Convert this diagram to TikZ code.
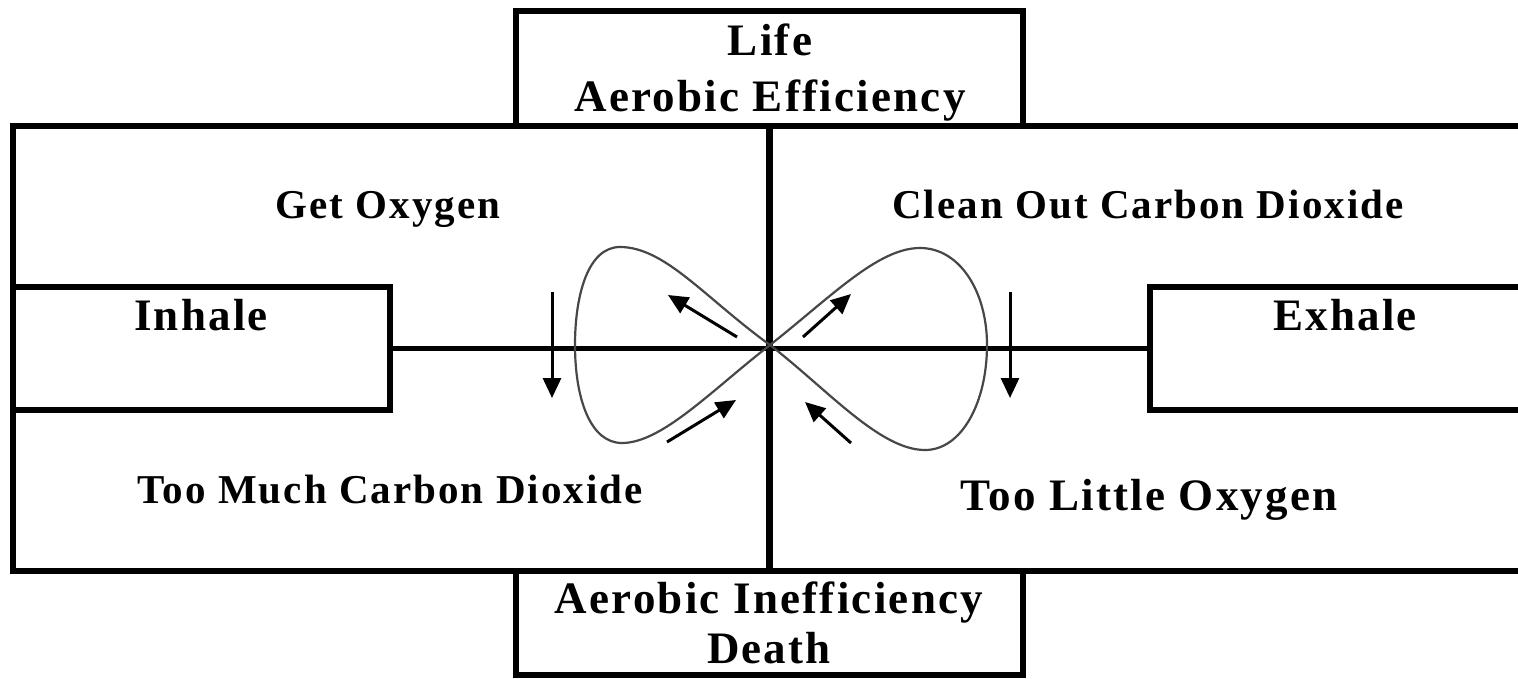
\documentclass[tikz,border=0pt]{standalone}
\usepackage{fontspec}
\setmainfont{Liberation Serif}[LetterSpace=5]
\usetikzlibrary{arrows.meta}
\begin{document}
\begin{tikzpicture}[x=1pt,y=-1pt,
  frame/.style={draw=black, line width=6pt, rectangle, inner sep=0pt, outer sep=0pt},
  axis/.style={draw=black, line width=5.5pt},
  loopline/.style={draw=black!72, line width=2.2pt},
  flow/.style={draw=black, line width=3pt, -{Triangle[length=20pt,width=18pt]}},
  big/.style={font=\fontsize{45}{50}\selectfont\bfseries, inner sep=0pt, anchor=base},
  mid/.style={font=\fontsize{41}{46}\selectfont\bfseries, inner sep=0pt, anchor=base}]
\useasboundingbox (0,0) rectangle (1518,678);
\clip (0,0) rectangle (1518,678);
\fill[white] (0,0) rectangle (1518,678);

% boxes
\node[frame, minimum width=1527.5pt, minimum height=445.5pt] (main) at (776.25,348.25) {};
\node[frame, fill=white, minimum width=507pt, minimum height=114.5pt] (topbox) at (769.5,68.25) {};
\node[frame, fill=white, minimum width=507pt, minimum height=104pt] (botbox) at (769.5,623) {};
\node[frame, fill=white, minimum width=377.5pt, minimum height=123pt] (inhale) at (201.25,348.5) {};
\node[frame, fill=white, minimum width=390pt, minimum height=123pt] (exhale) at (1345,348.5) {};

% axes
\draw[axis] (inhale.east) -- (exhale.west);
\draw[axis, line width=6.5pt] (topbox.south) -- (botbox.north);

% figure-eight loop
\coordinate (ctr) at (770,345);
\draw[loopline] (ctr) .. controls (705,298) and (665,247) .. (620,247)
  .. controls (588,247) and (575,295) .. (575,345)
  .. controls (575,398) and (590,443) .. (622,443)
  .. controls (662,443) and (712,390) .. (ctr);
\draw[loopline] (ctr) .. controls (832,296) and (878,248) .. (920,248)
  .. controls (960,248) and (987,292) .. (987,345)
  .. controls (987,402) and (962,450) .. (925,450)
  .. controls (880,450) and (828,390) .. (ctr);

% flow arrows
\coordinate (a1s) at (552,292); \coordinate (a1e) at (552,398);
\coordinate (a2s) at (737,337); \coordinate (a2e) at (668,295);
\coordinate (a3s) at (667,442); \coordinate (a3e) at (736,400);
\coordinate (a4s) at (803,337); \coordinate (a4e) at (851,294);
\coordinate (a5s) at (851,443); \coordinate (a5e) at (805,402);
\coordinate (a6s) at (1010,292); \coordinate (a6e) at (1010,398);
\draw[flow] (a1s) -- (a1e);
\draw[flow] (a2s) -- (a2e);
\draw[flow] (a3s) -- (a3e);
\draw[flow] (a4s) -- (a4e);
\draw[flow] (a5s) -- (a5e);
\draw[flow] (a6s) -- (a6e);

% texts
\node[big] (life) at (770,55) {Life};
\node[big] (aeff) at (770,111) {Aerobic Efficiency};
\node[mid] (getox) at (388,218) {Get Oxygen};
\node[mid] (clean) at (1148,218) {Clean Out Carbon Dioxide};
\node[big] (inh) at (201,330) {Inhale};
\node[big] (exh) at (1345,330) {Exhale};
\node[mid] (much) at (390,503) {Too Much Carbon Dioxide};
\node[big] (little) at (1149,510) {Too Little Oxygen};
\node[big] (ainef) at (769,613) {Aerobic Inefficiency};
\node[big] (death) at (769,663) {Death};
\end{tikzpicture}
\end{document}
